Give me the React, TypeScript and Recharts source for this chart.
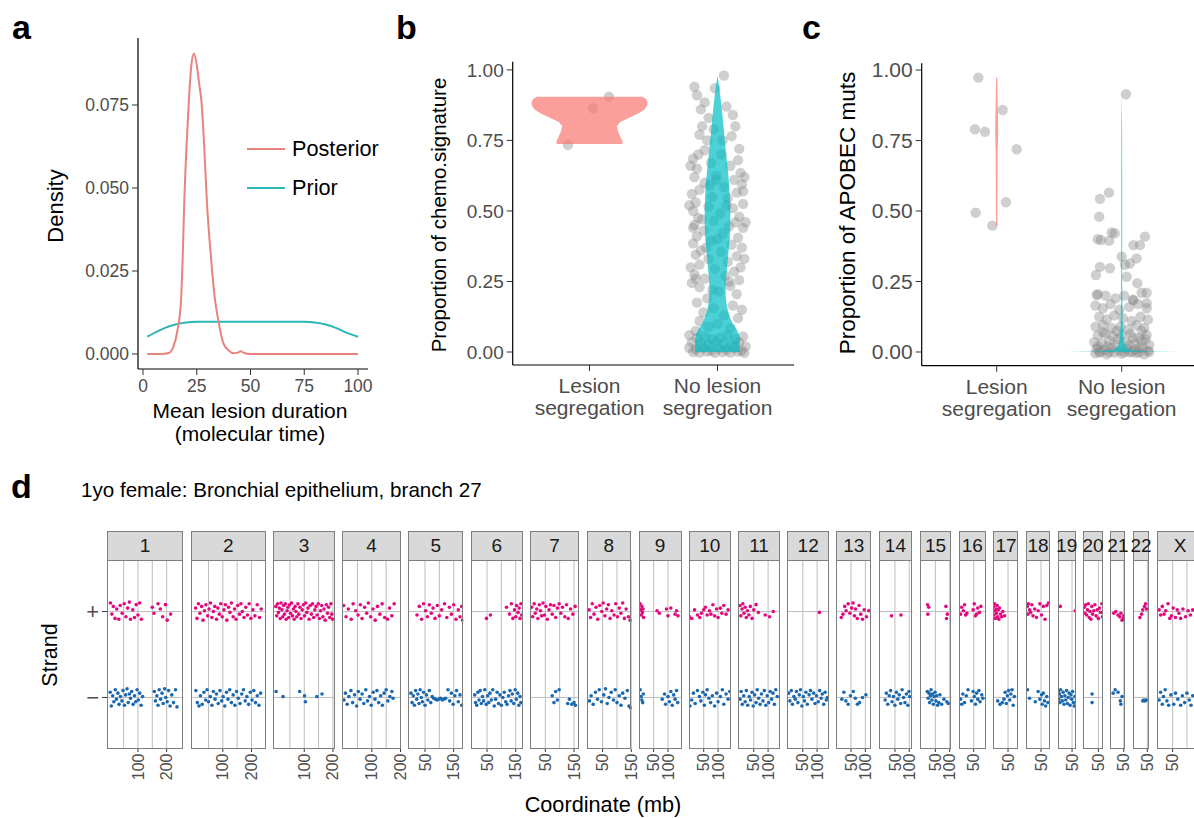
import React from 'react';
import {
  Area,
  ComposedChart,
  Legend,
  Line,
  LineChart,
  ReferenceLine,
  Scatter,
  ScatterChart,
  XAxis,
  YAxis,
} from 'recharts';

const FONT = '"Liberation Sans", Arial, Helvetica, sans-serif';
const RED = '#F8766D';
const TEAL = '#00BFC4';
const PLUS_COLOR = '#E4087E';
const MINUS_COLOR = '#1A69B0';

// ---- panel a: posterior vs prior of mean lesion duration
const POSTERIOR_X = [2, 6, 10, 12, 14, 16, 17.7, 18.5, 19.2, 20.2, 21.3, 22.5, 23.7, 25, 26.2, 27.2, 28.5, 29.7, 31.5, 33.5, 35, 37.4, 40, 42, 44, 45.5, 47, 50, 60, 80, 100];
const POSTERIOR_DENSITY = [0, 0, 0.0001, 0.0003, 0.002, 0.007, 0.0163, 0.03, 0.046, 0.062, 0.076, 0.087, 0.0905, 0.087, 0.081, 0.076, 0.062, 0.046, 0.03, 0.0163, 0.0102, 0.0032, 0.001, 0.0002, 0.0004, 0.0008, 0.0003, 0, 0, 0, 0];
const PRIOR_X = [2, 6, 10, 15, 20, 25, 30, 50, 70, 75, 80, 85, 90, 94, 100];
const PRIOR_DENSITY = [0.0052, 0.0066, 0.0078, 0.0089, 0.0095, 0.0097, 0.0097, 0.0097, 0.0097, 0.0097, 0.0095, 0.0089, 0.0078, 0.0066, 0.0052];
const A_X_TICKS = [0, 25, 50, 75, 100];
const A_Y_TICKS = [0, 0.025, 0.05, 0.075];

// ---- panels b and c
const CATEGORY_LABELS = ['Lesion\nsegregation', 'No lesion\nsegregation'];
const PROP_TICKS = [0, 0.25, 0.5, 0.75, 1];

const B_LESION_POINTS = [[0.832, 0.734], [1.027, 0.865], [1.152, 0.905]];
const B_NO_LESION_POINTS = [
  [2.05, 0.98], [1.82, 0.94], [1.98, 0.935], [1.84, 0.91], [1.9, 0.885], [2.07, 0.87], [1.87, 0.86], [2.12, 0.84],
  [1.93, 0.83], [1.88, 0.8], [2.14, 0.8], [1.97, 0.79], [1.86, 0.77], [2.11, 0.765], [1.92, 0.75], [2.17, 0.72],
  [1.9, 0.715], [2.03, 0.7], [1.81, 0.685], [2.16, 0.68], [1.95, 0.67], [2.1, 0.66], [1.84, 0.65], [2.18, 0.635],
  [1.99, 0.625], [1.82, 0.62], [2.13, 0.61], [1.9, 0.6], [2.19, 0.595], [2.05, 0.585], [1.86, 0.575], [2.15, 0.565],
  [1.8, 0.56], [1.96, 0.55], [2.08, 0.545], [1.83, 0.53], [2.2, 0.525], [1.93, 0.515], [2.12, 0.51], [1.81, 0.5],
  [2.02, 0.49], [2.17, 0.48], [1.85, 0.475], [1.97, 0.465], [2.14, 0.46], [1.82, 0.45], [2.09, 0.445], [2.2, 0.44],
  [1.89, 0.43], [2.04, 0.42], [1.84, 0.41], [2.16, 0.405], [1.95, 0.395], [1.81, 0.385], [2.11, 0.38], [2.19, 0.37],
  [1.87, 0.36], [2.03, 0.355], [1.83, 0.345], [2.15, 0.34], [1.93, 0.33], [2.08, 0.32], [1.86, 0.31], [2.18, 0.3],
  [1.98, 0.295], [2.13, 0.285], [1.82, 0.275], [2.06, 0.27], [1.9, 0.26], [2.17, 0.255], [1.8, 0.245], [2.1, 0.235],
  [1.86, 0.23], [2.01, 0.215], [2.15, 0.205], [1.92, 0.19], [1.84, 0.175], [2.12, 0.165], [1.97, 0.155], [1.89, 0.14],
  [2.05, 0.13], [2.16, 0.12], [1.86, 0.11], [2.0, 0.1], [1.93, 0.09], [2.1, 0.085], [1.83, 0.075],
  [1.79, 0.66], [2.21, 0.62], [1.94, 0.59], [2.07, 0.52], [1.88, 0.47], [2.22, 0.46], [1.91, 0.37], [2.21, 0.33],
  [1.79, 0.3], [2.09, 0.25], [1.96, 0.22], [1.83, 0.26], [2.19, 0.15], [1.81, 0.44], [2.0, 0.4], [1.99, 0.61],
  [2.04, 0.75], [1.85, 0.7], [2.2, 0.57], [1.78, 0.52],
  [1.78, 0.06], [1.84, 0.05], [1.9, 0.055], [1.96, 0.045], [2.02, 0.05], [2.08, 0.06], [2.14, 0.045], [2.2, 0.055],
  [1.8, 0.035], [1.87, 0.03], [1.93, 0.025], [1.99, 0.035], [2.05, 0.03], [2.11, 0.025], [2.17, 0.035], [2.22, 0.02],
  [1.78, 0.015], [1.83, 0.01], [1.89, 0.015], [1.95, 0.005], [2.01, 0.012], [2.07, 0.008], [2.13, 0.015], [2.19, 0.005],
  [1.81, 0.0], [1.86, -0.002], [1.92, 0.002], [1.98, -0.003], [2.04, 0.0], [2.1, -0.002], [2.16, 0.002], [2.21, -0.003],
];
// violin outlines: proportion level and half width (in category units)
const B_VIOLIN_LESION_V = [0.7376, 0.745, 0.76, 0.78, 0.8, 0.815, 0.83, 0.845, 0.86, 0.875, 0.888, 0.898, 0.905];
const B_VIOLIN_LESION_HW = [0.255, 0.26, 0.244, 0.225, 0.213, 0.24, 0.31, 0.38, 0.43, 0.452, 0.452, 0.44, 0.41];
const B_VIOLIN_NO_LESION_V = [0, 0.02, 0.04, 0.06, 0.08, 0.1, 0.12, 0.14, 0.17, 0.2, 0.23, 0.27, 0.3, 0.35, 0.4, 0.45, 0.5, 0.55, 0.6, 0.65, 0.7, 0.75, 0.8, 0.85, 0.9, 0.94, 0.98];
const B_VIOLIN_NO_LESION_HW = [0.176, 0.176, 0.175, 0.17, 0.15, 0.12, 0.1, 0.085, 0.07, 0.064, 0.063, 0.068, 0.075, 0.085, 0.095, 0.1, 0.1, 0.097, 0.09, 0.08, 0.068, 0.057, 0.047, 0.036, 0.024, 0.013, 0];

const C_LESION_POINTS = [[0.853, 0.973], [0.826, 0.79], [0.906, 0.781], [1.048, 0.858], [1.16, 0.719], [1.074, 0.531], [0.832, 0.494], [0.965, 0.448]];
const C_NO_LESION_POINTS = [
  [2.034, 0.914], [1.826, 0.543], [1.898, 0.565], [1.82, 0.48], [1.808, 0.4], [1.834, 0.397], [1.9, 0.395], [1.92, 0.424],
  [1.944, 0.421], [2.093, 0.379], [2.146, 0.379], [2.186, 0.409], [2.0, 0.338], [2.066, 0.314], [2.12, 0.332], [2.026, 0.309],
  [1.794, 0.273], [1.826, 0.302], [1.906, 0.297], [2.04, 0.267], [2.125, 0.244], [2.2, 0.21], [2.2, 0.173], [2.093, 0.184],
  [1.8, 0.202],
  [1.81, 0.205], [1.87, 0.2], [1.95, 0.19], [2.02, 0.2], [2.09, 0.185], [2.16, 0.21],
  [1.79, 0.165], [1.85, 0.155], [1.91, 0.17], [1.98, 0.15], [2.06, 0.16], [2.13, 0.17], [2.2, 0.155],
  [1.82, 0.125], [1.88, 0.115], [1.94, 0.13], [2.01, 0.12], [2.08, 0.11], [2.15, 0.125], [2.21, 0.115],
  [1.79, 0.09], [1.85, 0.095], [1.92, 0.085], [1.99, 0.09], [2.05, 0.08], [2.12, 0.095], [2.18, 0.085],
  [1.81, 0.06], [1.87, 0.065], [1.93, 0.055], [2.0, 0.06], [2.07, 0.065], [2.14, 0.05], [2.2, 0.06],
  [1.78, 0.035], [1.84, 0.03], [1.9, 0.04], [1.96, 0.025], [2.03, 0.035], [2.1, 0.03], [2.16, 0.04], [2.22, 0.025],
  [1.8, 0.012], [1.86, 0.008], [1.92, 0.015], [1.98, 0.005], [2.04, 0.012], [2.11, 0.008], [2.17, 0.015], [2.21, 0.005],
  [1.79, -0.005], [1.83, 0.0], [1.88, -0.008], [1.94, -0.002], [2.0, -0.006], [2.06, 0.0], [2.12, -0.004], [2.18, -0.008],
  [2.22, 0.0], [1.81, 0.02], [1.89, 0.02], [1.97, 0.045], [2.06, 0.025], [2.14, 0.015], [2.19, 0.045], [1.85, 0.07],
  [1.96, 0.075], [2.09, 0.05], [2.16, 0.075], [1.9, 0.0], [2.02, 0.0], [2.14, 0.0], [1.82, 0.0], [2.08, 0.0],
];
const C_VIOLIN_LESION_V = [0.448, 0.5, 0.6, 0.7, 0.74, 0.78, 0.82, 0.86, 0.9, 0.95, 0.973];
const C_VIOLIN_LESION_HW = [0.005, 0.006, 0.007, 0.008, 0.01, 0.012, 0.011, 0.009, 0.007, 0.006, 0.004];
const C_VIOLIN_NO_LESION_V = [0, 0.002, 0.005, 0.01, 0.02, 0.04, 0.07, 0.1, 0.2, 0.3, 0.4, 0.6, 0.8, 0.914];
const C_VIOLIN_NO_LESION_HW = [0.45, 0.2, 0.09, 0.05, 0.03, 0.018, 0.012, 0.008, 0.005, 0.004, 0.004, 0.004, 0.003, 0];

// ---- panel d: mutations per chromosome, [position (mb), vertical jitter (hundredths)]
const CHROMS = ['1', '2', '3', '4', '5', '6', '7', '8', '9', '10', '11', '12', '13', '14', '15', '16', '17', '18', '19', '20', '21', '22', 'X'];
const CHROM_LO = [-8, -11, -9, -4, -9.4, -6, -3.5, -4.5, -1, -1.4, -5, -5, -2.4, -5.6, -3.5, -1.4, -2.4, -2.4, 1, -3.6, 2, 0, -4.5];
const CHROM_HI = [259, 251, 206, 200.2, 183.5, 175, 167.5, 151, 149, 144, 141.5, 139.4, 119.6, 111.6, 107, 94, 84.8, 82.7, 63.8, 66, 54.3, 57, 160];
const GRID_MB = [
  [50, 100, 150, 200], [50, 100, 150, 200], [50, 100, 150, 200], [50, 100, 150, 200],
  [50, 100, 150], [50, 100, 150], [50, 100, 150], [50, 100, 150],
  [50, 100], [50, 100], [50, 100], [50, 100], [50, 100], [50, 100], [50, 100],
  [50], [50], [50], [50], [50], [50], [50], [50, 100, 150],
];
const LABEL_MB = [
  [100, 200], [100, 200], [100, 200], [100, 200],
  [50, 150], [50, 150], [50, 150], [50, 150],
  [50, 100], [50, 100], [50, 100], [50, 100], [50, 100], [50, 100], [50, 100],
  [50], [50], [50], [50], [50], [50], [50], [50],
];
const STRAND_LABELS = ['\u2212', '+'];

const PLUS_MUTS = [
  [[4, 10], [9, -3], [14, 6], [20, -8], [26, 3], [33, -9], [38, 7], [45, -2], [52, 9], [58, -6], [64, 4], [70, 11], [74, -9], [82, 2], [88, -7], [94, 8], [100, -4], [106, 10], [112, -9], [150, 5], [156, -2], [170, 9], [178, 3], [186, -6], [196, 8], [202, -10], [214, -3]],
  [[5, 4], [10, -8], [15, 9], [20, -2], [26, 6], [31, -10], [36, 1], [41, 8], [47, -5], [52, 3], [57, 10], [62, -7], [67, 0], [72, 6], [78, -9], [83, 4], [88, -3], [93, 9], [98, -6], [104, 2], [109, 8], [114, -10], [120, 5], [125, -1], [130, 10], [136, -6], [141, 3], [146, -9], [152, 7], [158, -3], [163, 9], [168, 0], [174, -7], [180, 5], [186, -4], [192, 9], [198, -8], [205, 2], [212, -5], [220, 8], [228, -7], [234, 3]],
  [[1, 6], [4, -5], [7, 9], [10, -1], [13, 4], [16, -8], [19, 10], [22, 2], [25, -6], [28, 7], [31, -3], [34, 9], [37, -9], [40, 1], [43, 5], [46, -7], [49, 8], [52, -2], [56, 10], [59, -5], [62, 3], [65, -9], [68, 6], [71, 0], [74, -6], [78, 9], [81, -3], [85, 5], [89, -8], [93, 2], [97, 8], [101, -5], [105, 10], [109, -1], [113, 4], [117, -9], [121, 7], [125, -3], [129, 9], [133, -7], [137, 2], [141, 6], [145, -4], [149, 9], [153, -8], [157, 1], [161, 7], [165, -6], [169, 3], [173, -10], [177, 8], [181, -2], [185, 5], [189, -7], [193, 9], [196, -3], [199, -9]],
  [[2, 7], [10, -6], [18, 3], [28, -9], [35, 9], [44, 1], [52, -4], [60, 8], [66, -8], [75, 5], [82, -2], [88, 10], [96, -6], [104, 3], [112, -10], [120, 6], [128, -3], [136, 9], [145, -7], [155, -9], [162, 4], [170, -5], [178, 9]],
  [[22, -4], [30, 6], [38, -9], [45, 9], [52, 1], [58, -6], [65, 8], [72, -2], [78, 4], [85, -8], [93, 7], [100, -5], [108, 2], [118, 9], [126, -7], [135, 5], [142, -3], [150, 8], [158, -9], [166, 2], [172, -6], [178, 6], [181, -10]],
  [[48, -8], [62, -4], [118, 5], [128, -3], [135, 9], [140, -8], [146, 2], [150, -6], [153, 7], [158, -1], [162, 4], [165, -8], [168, 9], [171, -4]],
  [[2, 5], [6, -6], [11, 9], [15, -2], [20, 3], [24, -8], [29, 8], [33, 1], [37, -5], [42, 10], [47, -4], [52, 6], [57, -9], [63, 2], [68, 8], [74, -3], [80, 7], [86, -7], [92, 4], [98, 9], [104, -2], [110, 5], [118, -6], [124, 8], [130, -8], [138, 3], [146, -3], [154, 6]],
  [[3, 2], [8, -7], [14, 9], [20, -3], [27, 5], [33, -9], [40, 7], [47, 0], [52, 10], [58, -5], [64, 3], [70, 8], [76, -8], [82, 1], [90, -4], [96, 9], [102, -6], [108, 4], [114, -2], [120, 10], [126, -8], [132, 3], [140, -6], [146, -10]],
  [[3, 9], [5, 2], [7, -4], [9, 6], [11, -1], [13, 3], [15, -7], [62, 1], [70, -2], [95, 3], [100, -5], [110, 4], [125, -3], [130, 1], [135, -5]],
  [[0, -6], [8, -8], [18, 2], [28, -4], [36, -7], [42, -2], [50, 2], [56, 5], [62, -4], [70, 1], [75, -3], [82, 8], [88, -5], [95, 3], [100, -7], [108, 4], [113, -2], [120, 7], [128, -3], [135, 2]],
  [[2, 7], [5, -5], [9, 3], [12, 9], [16, -2], [20, 5], [24, -7], [28, 1], [33, -4], [38, 6], [44, -8], [50, 2], [58, 8], [66, -1], [90, -4], [105, -6], [118, 0]],
  [[108, -1]],
  [[16, -7], [22, -3], [28, 6], [33, 1], [40, 9], [46, -2], [52, 4], [57, 10], [62, -5], [66, 3], [72, -8], [78, 7], [84, -3], [90, -9], [96, 2], [104, -6], [112, 1]],
  [[38, -5], [71, -4]],
  [[23, 8], [27, 5], [24, -3], [87, 6], [92, -3], [89, -8]],
  [[4, -3], [8, 5], [14, 1], [18, 8], [22, -4], [26, -2], [48, 2], [52, 9], [56, -5], [60, -3], [64, 4], [70, -1], [75, 6]],
  [[0, 6], [1, -4], [3, 9], [4, 1], [6, -8], [8, 3], [10, -2], [12, 7], [14, -6], [16, 2], [18, -9], [20, 4], [24, -3], [28, -6], [32, 0], [38, -5]],
  [[2, 6], [4, -3], [6, 9], [10, 2], [14, -1], [18, 8], [22, -5], [28, 3], [34, -7], [40, 1], [46, 9], [52, -4], [58, 6], [64, -9], [70, 7], [76, 10]],
  [[9, 6], [61, 1]],
  [[1, 5], [3, -2], [6, 8], [9, -4], [12, 2], [15, 9], [18, -7], [21, 0], [24, -9], [27, 6], [30, -3], [34, 1], [38, 8], [42, -5], [46, 2], [50, -8], [54, 4], [58, -1], [62, 9], [64, -6]],
  [[15, -2], [22, 0], [30, -4], [36, -6], [40, -2], [44, -10], [48, -8], [50, -5]],
  [[24, -7], [30, -3], [34, 2], [40, 6], [44, 9], [47, 3]],
  [[3, 2], [8, -4], [14, 6], [20, -3], [26, 1], [34, 9], [40, -8], [46, -5], [52, 4], [60, -7], [66, 2], [72, -2], [78, -8], [86, 3], [95, -6], [104, 1], [112, -4], [120, 2], [130, -6], [140, 4]],
];
const MINUS_MUTS = [
  [[3, 6], [7, -10], [12, 2], [16, -5], [21, 9], [25, -2], [30, 5], [34, -8], [39, 1], [44, -4], [48, 8], [53, -9], [57, 3], [62, 10], [66, -6], [70, 4], [74, -1], [78, 7], [83, -8], [88, 2], [92, -5], [97, 9], [101, -3], [106, 5], [111, -9], [116, 1], [157, 7], [161, -4], [166, 2], [170, -9], [174, 9], [179, -2], [184, 5], [188, -7], [193, 10], [197, 0], [202, -5], [207, 8], [212, -10], [218, 3], [224, -6], [231, 9], [236, -11]],
  [[6, 8], [11, -6], [17, -10], [22, 2], [28, -8], [34, 6], [40, -3], [45, 9], [50, -5], [56, 1], [62, -9], [67, 7], [73, -2], [78, 4], [84, -7], [90, 8], [96, -4], [101, 1], [107, -10], [113, 6], [118, -2], [124, 9], [130, -6], [136, 3], [142, -9], [148, 7], [154, -1], [160, -7], [166, 4], [172, 9], [178, -4], [184, 1], [190, -8], [196, 6], [202, -3], [208, 8], [214, -6], [220, 2], [226, -9], [232, 5]],
  [[2, 7], [26, 1], [84, 7], [101, 2], [104, -5], [144, 1], [162, 4]],
  [[3, -3], [8, 5], [14, -8], [20, 1], [27, 8], [33, -6], [40, 3], [47, -10], [53, 7], [59, -2], [66, 4], [72, -7], [79, 9], [85, -4], [92, 1], [98, -9], [105, 6], [111, -2], [118, 8], [124, -6], [131, 2], [137, -9], [143, 5], [150, 9], [156, -4], [163, 1], [170, 7], [174, -1]],
  [[1, 5], [5, -6], [9, 2], [13, -9], [17, 8], [21, -2], [25, 4], [29, -7], [33, 9], [37, 0], [41, -5], [45, 6], [50, -9], [55, 3], [60, -3], [65, 8], [70, -6], [75, 1], [80, -1], [86, -2], [92, -3], [98, -2], [104, -1], [110, -3], [116, -2], [122, -1], [130, 9], [136, -4], [142, 5], [148, -8], [154, 2], [160, 8], [166, -5], [172, 3], [178, -9]],
  [[7, 3], [10, -6], [14, -9], [18, 6], [22, -3], [26, 8], [30, -7], [34, 1], [38, -4], [42, 9], [47, -8], [52, 2], [56, -6], [60, 5], [65, -3], [70, 9], [75, -10], [80, -2], [85, 6], [90, -7], [95, 3], [100, -9], [105, 0], [110, 6], [115, -5], [120, -8], [125, 2], [130, 8], [134, -4], [138, 4], [143, -7], [148, 9], [152, -2], [157, 5], [161, -9], [165, 1], [168, -6]],
  [[74, 2], [80, -6], [86, 7], [92, -3], [98, 9], [128, -7], [134, -2], [142, -8], [150, -6], [155, -9]],
  [[4, -4], [10, 2], [17, -8], [25, 6], [32, -2], [38, 9], [46, -5], [54, 3], [60, 10], [66, -7], [72, 0], [80, 6], [88, -3], [94, 9], [100, -6], [108, 2], [114, -9], [120, 5], [128, -1], [136, 8], [142, -10], [147, -12]],
  [[3, 9], [6, 1], [9, -3], [12, -6], [14, 4], [80, -2], [88, 4], [92, -8], [100, 1], [105, -5], [110, 7], [115, -9], [120, 3], [125, -2], [130, 8], [134, -6]],
  [[2, -10], [8, -3], [14, 5], [20, -7], [28, 8], [35, 1], [40, -4], [47, 6], [52, -9], [56, 3], [62, 9], [68, -1], [74, -6], [80, 2], [88, -10], [95, 5], [100, -5], [108, 1], [115, 9], [120, -8], [128, 4], [135, -2], [141, 7]],
  [[2, -2], [6, 7], [10, -8], [15, 2], [20, -5], [24, 8], [29, -9], [34, 1], [39, -3], [44, 6], [48, -10], [53, 3], [58, -6], [62, 9], [67, -1], [72, -8], [77, 4], [82, -4], [87, 8], [92, -9], [97, 2], [102, -6], [107, 7], [112, -2], [117, 5], [122, -8], [127, 9], [132, 1]],
  [[1, 5], [5, -4], [10, 8], [14, -8], [19, 1], [24, -2], [28, 7], [33, -6], [38, 3], [42, 9], [47, -10], [52, 1], [56, -4], [61, 6], [66, -8], [72, 3], [77, 8], [82, -2], [88, 5], [93, -7], [98, 2], [104, -5], [109, 8], [114, -1], [118, 4], [123, -8], [128, 6], [132, -3], [136, 0]],
  [[18, -2], [25, 6], [32, -4], [40, -8], [48, 2], [58, 7], [65, -1], [72, -8], [80, -6], [90, 0], [102, 3]],
  [[16, -3], [20, 5], [25, -8], [30, 2], [35, 8], [40, -5], [45, 1], [50, -9], [55, 6], [60, -2], [65, 3], [70, -7], [75, 9], [80, 0], [85, -6], [90, 4], [95, -9], [99, 7], [102, 1]],
  [[22, 7], [25, -1], [28, 5], [30, -6], [33, 2], [35, 9], [38, -3], [40, 4], [43, -8], [46, 1], [49, 6], [52, -4], [55, 2], [58, -9], [62, -6], [66, 3], [72, -8], [80, -2], [90, -5], [95, -7]],
  [[4, -2], [8, -8], [12, 4], [18, -6], [24, 2], [30, 9], [42, -4], [48, 7], [52, 1], [56, -8], [60, 5], [64, -2], [68, 8], [72, -5], [78, 3], [82, -1]],
  [[14, -4], [22, -8], [30, -6], [36, -2], [40, 6], [44, -7], [48, 2], [52, 8], [56, -3], [60, 4], [64, 9], [68, -9], [72, 1]],
  [[3, 9], [10, -1], [30, -5], [40, 7], [46, -2], [52, 3], [54, -8], [58, 5], [62, -4], [66, -10], [70, 1], [74, -6]],
  [[2, 7], [4, -2], [6, 4], [8, -6], [10, 9], [13, 1], [16, -4], [19, 6], [22, -8], [25, 2], [28, -3], [31, 8], [34, -7], [37, 0], [40, 5], [43, -9], [46, 3], [49, -2], [52, 7], [55, -6], [58, -10], [60, 1]],
  [[28, 4], [28, -6]],
  [[13, 5], [20, 9], [30, 6], [38, -4], [40, -8], [44, 1]],
  [[34, -4], [38, -3], [42, -4], [46, -3]],
  [[3, -3], [8, 6], [14, -8], [18, 1], [24, 9], [30, -4], [36, -9], [44, 3], [54, -8], [60, 5], [68, -2], [78, -9], [84, 2], [92, -6], [100, 5], [108, -3], [114, -9], [120, 2], [132, -5], [142, 4]],
];

// ---- layout
const PX_PER_MB = 0.2867;
const FACET_GAP = 7.4;
const FACET_LEFT0 = 106.7;
const STRIP_TOP = 531.3;
const PANEL_TOP = 560.3;
const PANEL_H = 189;
const FACET_PAD_RIGHT = 12;

const toXY = (pts: number[][]) => pts.map(([x, v]) => ({ x, v }));
const violin = (center: number, vs: number[], hws: number[]) =>
  vs.map((v, i) => ({ v, range: [center - hws[i], center + hws[i]] }));

const posteriorData = POSTERIOR_X.map((x, i) => ({ x, density: POSTERIOR_DENSITY[i] }));
const priorData = PRIOR_X.map((x, i) => ({ x, density: PRIOR_DENSITY[i] }));

const grayDot = (p: any) => <circle cx={p.cx} cy={p.cy} r={5.2} fill="#888888" fillOpacity={0.4} />;
const mutDot = (fill: string) => (p: any) => <circle cx={p.cx} cy={p.cy} r={1.8} fill={fill} />;

const axisLine = { stroke: '#000', strokeWidth: 1.2 };
const tickLine = { stroke: '#333', strokeWidth: 1 };

// two-line category labels under panels b and c
const CategoryTick = (props: any) => {
  const { x, y, payload } = props;
  const lines = CATEGORY_LABELS[payload.value - 1].split('\n');
  return (
    <g>
      {lines.map((l, k) => (
        <text key={k} x={x} y={y + 19 + k * 22.5} textAnchor="middle" fill="#4D4D4D" fontSize={21}>{l}</text>
      ))}
    </g>
  );
};

const renderLegend = (props: any) => (
  <div>
    {(props.payload || []).map((p: any) => (
      <div key={p.value} style={{ display: 'flex', alignItems: 'center', height: 39 }}>
        <svg width={38} height={4}>
          <line x1={0} x2={38} y1={2} y2={2} stroke={p.color} strokeWidth={2} />
        </svg>
        <span style={{ marginLeft: 7, fontSize: 21.7, color: '#000', whiteSpace: 'nowrap' }}>{p.value}</span>
      </div>
    ))}
  </div>
);

function PanelA() {
  return (
    <div style={{ position: 'absolute', left: 40, top: 30 }}>
      <LineChart width={348} height={409} margin={{ top: 8, right: 20, bottom: 0, left: 0 }}>
        <XAxis type="number" dataKey="x" domain={[-2.33, 104.65]} allowDataOverflow ticks={A_X_TICKS} interval={0}
          height={70} tickSize={6} tickMargin={5} axisLine={axisLine} tickLine={tickLine}
          tick={{ fill: '#4D4D4D', fontSize: 17.5 }} />
        <YAxis type="number" domain={[-0.00452, 0.09518]} allowDataOverflow ticks={A_Y_TICKS} interval={0}
          width={98} tickSize={6} tickMargin={3} axisLine={axisLine} tickLine={tickLine}
          tick={{ fill: '#4D4D4D', fontSize: 17.5 }} tickFormatter={(v: number) => v.toFixed(3)} />
        <Line data={priorData} dataKey="density" name="Prior" stroke="#2DB6B8" strokeWidth={2} dot={false}
          type="monotone" isAnimationActive={false} />
        <Line data={posteriorData} dataKey="density" name="Posterior" stroke="#E8837D" strokeWidth={2} dot={false}
          type="monotone" isAnimationActive={false} />
        <Legend content={renderLegend} layout="vertical" align="center" verticalAlign="middle"
          itemSorter={(item: any) => (item.value === 'Posterior' ? 0 : 1)}
          wrapperStyle={{ left: 207, top: 99, width: 140, height: 78 }} />
      </LineChart>
    </div>
  );
}

function ViolinPanel(props: any) {
  const { left, top, width, plotTop, plotBottom, yAxisWidth, yDomain, tickFont, lesion, noLesion, vLesion, vNoLesion } = props;
  return (
    <div style={{ position: 'absolute', left, top }}>
      <ComposedChart layout="vertical" width={width} height={plotBottom - top + 60}
        margin={{ top: plotTop - top, right: 0, bottom: 0, left: 0 }}>
        <XAxis type="number" dataKey="x" domain={[0.4, 2.6]} allowDataOverflow ticks={[1, 2]} interval={0}
          height={60} tickSize={6} tickMargin={3} axisLine={axisLine} tickLine={tickLine} tick={CategoryTick} />
        <YAxis type="number" dataKey="v" domain={yDomain} allowDataOverflow reversed ticks={PROP_TICKS} interval={0}
          width={yAxisWidth} tickSize={6} tickMargin={3} axisLine={axisLine} tickLine={tickLine}
          tick={{ fill: '#4D4D4D', fontSize: tickFont }} tickFormatter={(v: number) => v.toFixed(2)} />
        <Scatter data={lesion} shape={grayDot} isAnimationActive={false} zIndex={600} />
        <Scatter data={noLesion} shape={grayDot} isAnimationActive={false} zIndex={600} />
        <Area data={vLesion} dataKey="range" type="linear" fill={RED} fillOpacity={0.7} stroke="none"
          isAnimationActive={false} zIndex={700} />
        <Area data={vNoLesion} dataKey="range" type="linear" fill={TEAL} fillOpacity={0.7} stroke="none"
          isAnimationActive={false} zIndex={700} />
      </ComposedChart>
    </div>
  );
}

const facetTick = (labels: number[]) => (props: any) => {
  const { x, y, payload } = props;
  if (!labels.includes(payload.value)) return <g />;
  return (
    <g>
      <line x1={x} x2={x} y1={y} y2={y + 3} stroke="#333" />
      <text x={x} y={y + 4.5} transform={`rotate(-90 ${x} ${y + 4.5})`} textAnchor="end" dy="0.35em"
        fontSize={16} fill="#4D4D4D">{payload.value}</text>
    </g>
  );
};

function PanelD() {
  let left = FACET_LEFT0;
  const facets = CHROMS.map((chrom, i) => {
    const w = (CHROM_HI[i] - CHROM_LO[i]) * PX_PER_MB;
    const facetLeft = left;
    left += w + FACET_GAP;
    const yw = i === 0 ? 30 : 0;
    const plus = PLUS_MUTS[i].map(([mb, j]) => ({ x: mb, y: 2 + j / 100 }));
    const minus = MINUS_MUTS[i].map(([mb, j]) => ({ x: mb, y: 1 + j / 100 }));
    return (
      <React.Fragment key={chrom}>
        <div style={{ position: 'absolute', left: facetLeft - yw, top: PANEL_TOP }}>
          <ScatterChart width={w + yw + FACET_PAD_RIGHT} height={PANEL_H + 45}
            margin={{ top: 0, right: FACET_PAD_RIGHT, bottom: 0, left: 0 }}>
            <XAxis type="number" dataKey="x" domain={[CHROM_LO[i], CHROM_HI[i]]} allowDataOverflow ticks={GRID_MB[i]}
              interval={0} height={45} tickSize={0} tickMargin={0} axisLine={false} tickLine={false}
              tick={facetTick(LABEL_MB[i])} />
            <YAxis type="number" dataKey="y" domain={[0.4, 2.6]} allowDataOverflow ticks={[1, 2]} interval={0}
              hide={i !== 0} width={yw} tickSize={5} tickMargin={3} axisLine={false} tickLine={tickLine}
              tick={{ fill: '#4D4D4D', fontSize: 22 }} tickFormatter={(v: number) => STRAND_LABELS[v - 1]} />
            {GRID_MB[i].map((g) => (
              <ReferenceLine key={g} x={g} stroke="#BEBEBE" strokeWidth={1} />
            ))}
            <ReferenceLine y={1} stroke="#BEBEBE" strokeWidth={1} />
            <ReferenceLine y={2} stroke="#BEBEBE" strokeWidth={1} />
            <Scatter data={plus} shape={mutDot(PLUS_COLOR)} isAnimationActive={false} />
            <Scatter data={minus} shape={mutDot(MINUS_COLOR)} isAnimationActive={false} />
          </ScatterChart>
        </div>
        <div style={{ position: 'absolute', left: facetLeft, top: PANEL_TOP, width: w, height: PANEL_H,
          border: '1px solid #7F7F7F', boxSizing: 'border-box', pointerEvents: 'none' }} />
        <div style={{ position: 'absolute', left: facetLeft, top: STRIP_TOP, width: w, height: PANEL_TOP - STRIP_TOP + 1,
          background: '#D9D9D9', border: '1px solid #7F7F7F', boxSizing: 'border-box', display: 'flex',
          alignItems: 'center', justifyContent: 'center', fontSize: 19, color: '#1A1A1A', overflow: 'visible',
          whiteSpace: 'nowrap' }}>
          {chrom}
        </div>
      </React.Fragment>
    );
  });
  return <>{facets}</>;
}

export default function App() {
  return (
    <div style={{ position: 'absolute', left: 0, top: 0, width: 1194, height: 818, overflow: 'hidden',
      background: '#fff', fontFamily: FONT }}>
      <PanelA />
      <ViolinPanel left={400} top={50} width={394.3} plotTop={61.7} plotBottom={365} yAxisWidth={112.7}
        yDomain={[-0.046, 1.029]} tickFont={19}
        lesion={toXY(B_LESION_POINTS)} noLesion={toXY(B_NO_LESION_POINTS)}
        vLesion={violin(1, B_VIOLIN_LESION_V, B_VIOLIN_LESION_HW)}
        vNoLesion={violin(2, B_VIOLIN_NO_LESION_V, B_VIOLIN_NO_LESION_HW)} />
      <ViolinPanel left={800} top={50} width={396.7} plotTop={63.3} plotBottom={365.7} yAxisWidth={121.7}
        yDomain={[-0.0486, 1.0238]} tickFont={21}
        lesion={toXY(C_LESION_POINTS)} noLesion={toXY(C_NO_LESION_POINTS)}
        vLesion={violin(1, C_VIOLIN_LESION_V, C_VIOLIN_LESION_HW)}
        vNoLesion={violin(2, C_VIOLIN_NO_LESION_V, C_VIOLIN_NO_LESION_HW)} />
      <PanelD />
      <svg width={1194} height={818} style={{ position: 'absolute', left: 0, top: 0, pointerEvents: 'none' }}>
        <g fontWeight="bold" fontSize={34} fill="#000">
          <text x={12} y={39}>a</text>
          <text x={396} y={39}>b</text>
          <text x={802} y={39}>c</text>
          <text x={11} y={498}>d</text>
        </g>
        <text transform="translate(55,206) rotate(-90)" textAnchor="middle" dominantBaseline="central" fontSize={22}>Density</text>
        <text x={250} y={418} textAnchor="middle" fontSize={21}>Mean lesion duration</text>
        <text x={250} y={441} textAnchor="middle" fontSize={21}>(molecular time)</text>
        <text transform="translate(438,215) rotate(-90)" textAnchor="middle" dominantBaseline="central" fontSize={20.5}>Proportion of chemo.signature</text>
        <text transform="translate(847,213) rotate(-90)" textAnchor="middle" dominantBaseline="central" fontSize={22.5}>Proportion of APOBEC muts</text>
        <text x={81} y={497} fontSize={20.6}>1yo female: Bronchial epithelium, branch 27</text>
        <text transform="translate(50,655) rotate(-90)" textAnchor="middle" dominantBaseline="central" fontSize={21.5}>Strand</text>
        <text x={603} y={812} textAnchor="middle" fontSize={21.7}>Coordinate (mb)</text>
      </svg>
    </div>
  );
}
